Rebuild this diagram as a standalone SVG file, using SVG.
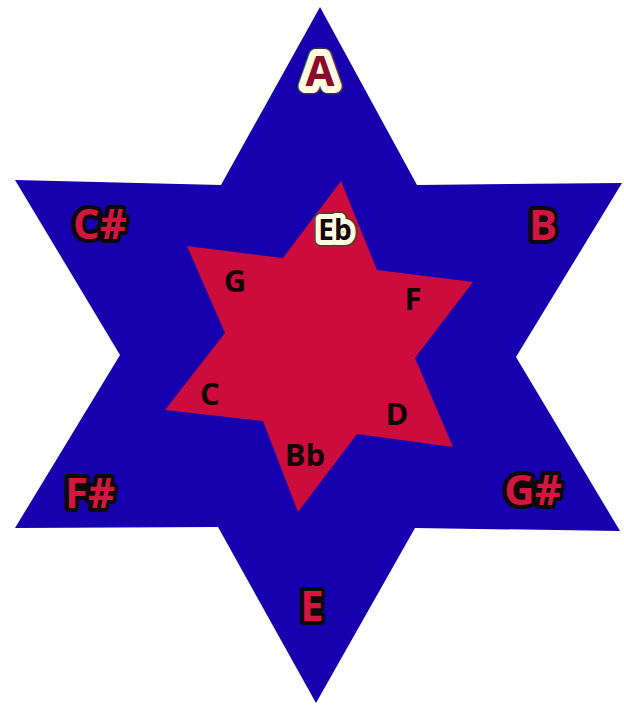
<svg xmlns="http://www.w3.org/2000/svg" width="624" height="706" viewBox="0 0 624 706">
<defs>
<style>
.lbl{font-family:"Open Sans","Noto Sans","Liberation Sans",sans-serif;font-weight:700;text-anchor:middle}
.outer{font-size:42px;fill:#d3163f;stroke:#0a0a0a;stroke-width:8;stroke-linejoin:round;paint-order:stroke}
.inner{font-size:31px;fill:#120608}
.halo{stroke:#fffbe0;stroke-linejoin:round;paint-order:stroke}
</style>
</defs>
<rect width="624" height="706" fill="#ffffff"/>
<g id="blue-star">
<polygon points="320,7 417,185 622,183 516,357 620,531 415,528 316,703 218,527 15,528 120,355 15,180 221,185" fill="#1700ad"/>
</g>
<g id="red-star">
<polygon points="341,181 377,270 473,282 415,358 453,447 357,434 298,512 263,421 165,410 225,333 187,246 283,258" fill="#cc0c3c"/>
</g>
<g id="connectors"></g>
<g id="node-A"><text class="lbl" x="320" y="86" font-size="42" fill="none" stroke="#3a3050" stroke-width="17" stroke-linejoin="round">A</text><text class="lbl halo" x="320" y="86" font-size="42" fill="#8b0b2d" stroke-width="14">A</text></g>
<g id="node-Csharp"><text class="lbl outer" x="100" y="239">C#</text></g>
<g id="node-B"><text class="lbl outer" x="543" y="240">B</text></g>
<g id="node-Fsharp"><text class="lbl outer" x="90" y="508">F#</text></g>
<g id="node-Gsharp"><text class="lbl outer" x="533" y="505">G#</text></g>
<g id="node-E"><text class="lbl outer" x="312" y="621">E</text></g>
<g id="node-Eb"><text class="lbl" x="335" y="240" font-size="28" fill="none" stroke="#4a4030" stroke-width="13" stroke-linejoin="round">Eb</text><text class="lbl halo" x="335" y="240" font-size="28" fill="#120608" stroke-width="10">Eb</text></g>
<g id="node-G"><text class="lbl inner" x="235" y="292">G</text></g>
<g id="node-F"><text class="lbl inner" x="413" y="310">F</text></g>
<g id="node-C"><text class="lbl inner" x="210" y="405">C</text></g>
<g id="node-D"><text class="lbl inner" x="397" y="425">D</text></g>
<g id="node-Bb"><text class="lbl inner" x="305" y="466">Bb</text></g>
</svg>
